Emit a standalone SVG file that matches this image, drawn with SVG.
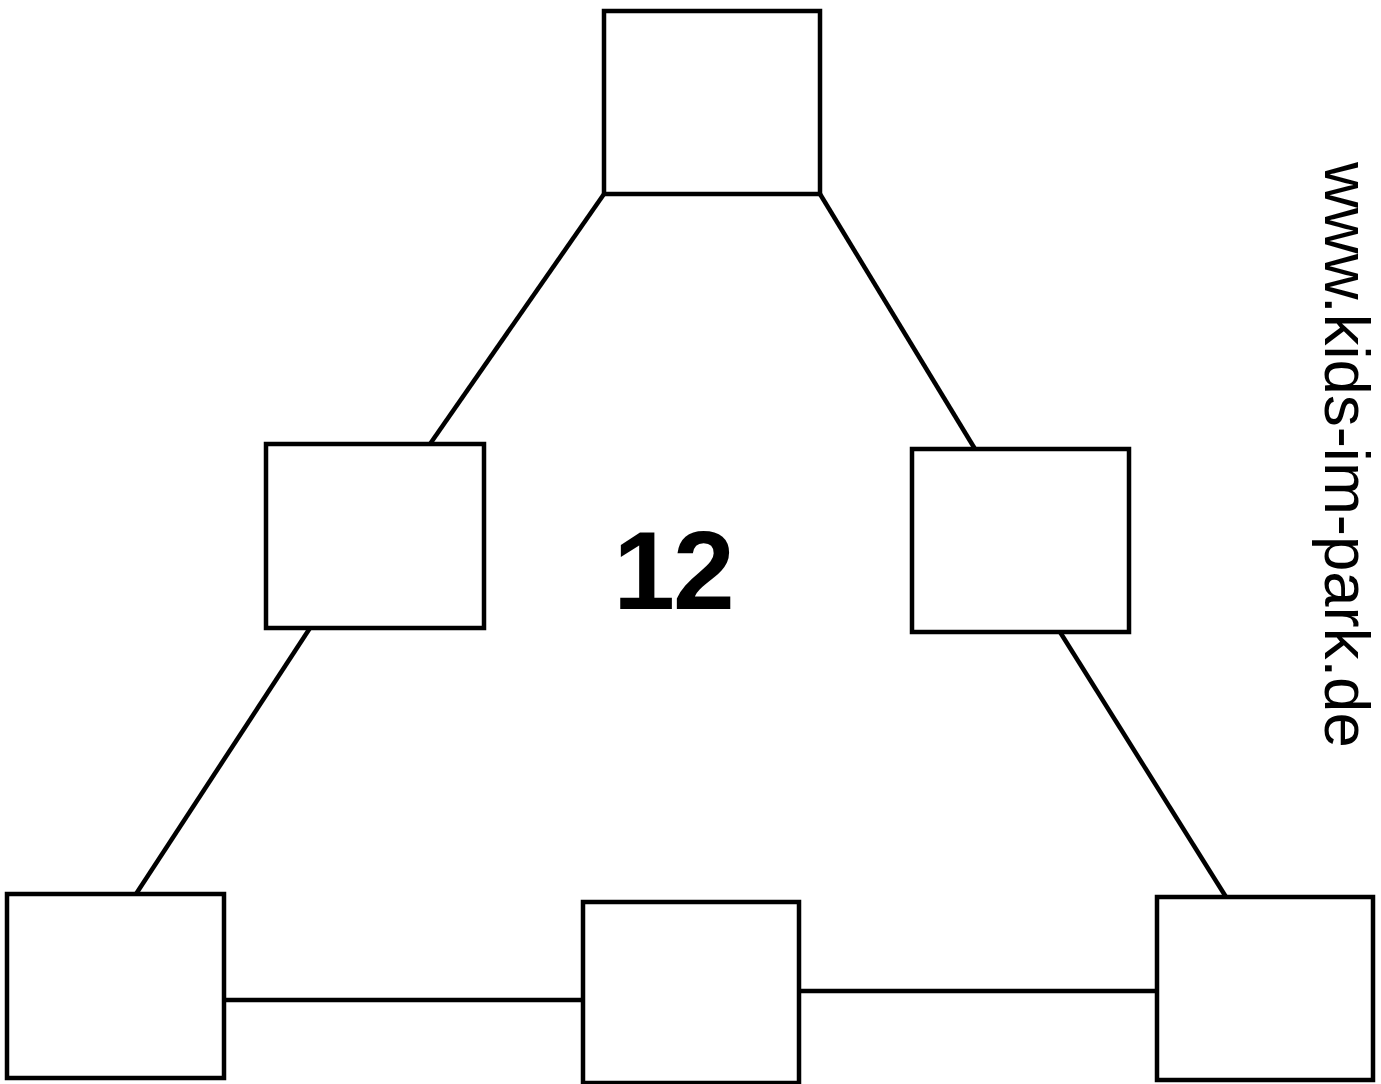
<svg xmlns="http://www.w3.org/2000/svg" width="1381" height="1084" viewBox="0 0 1381 1084">
<style>
.box{fill:#fff;stroke:#000;stroke-width:4.5}
.ln{stroke:#000;stroke-width:4.5;fill:none}
</style>
<rect width="1381" height="1084" fill="#fff"/>
<g id="connectors">
<line class="ln" x1="604" y1="194" x2="430" y2="444"/>
<line class="ln" x1="820" y1="194" x2="975" y2="449"/>
<line class="ln" x1="310" y1="628" x2="136" y2="894"/>
<line class="ln" x1="1060" y1="632" x2="1226" y2="897"/>
<line class="ln" x1="224" y1="1000" x2="583" y2="1000"/>
<line class="ln" x1="799" y1="991" x2="1157" y2="991"/>
</g>
<g id="node-top"><rect class="box" x="604" y="11" width="216" height="183"/></g>
<g id="node-left"><rect class="box" x="266" y="444" width="218" height="184"/></g>
<g id="node-right"><rect class="box" x="912" y="449" width="217" height="183"/></g>
<g id="node-bottom-left"><rect class="box" x="7" y="894" width="217" height="184"/></g>
<g id="node-bottom-middle"><rect class="box" x="583" y="902" width="216" height="181"/></g>
<g id="node-bottom-right"><rect class="box" x="1157" y="897" width="216" height="183"/></g>
<g id="center-label"><text x="673" y="609" text-anchor="middle" font-family="Liberation Sans, Arial, sans-serif" font-weight="bold" font-size="111" letter-spacing="-2">12</text></g>
<g id="watermark"><text transform="translate(1325,162) rotate(90)" x="0" y="0" font-family="Liberation Sans, Arial, sans-serif" font-size="63.5">www.kids-im-park.de</text></g>
</svg>
